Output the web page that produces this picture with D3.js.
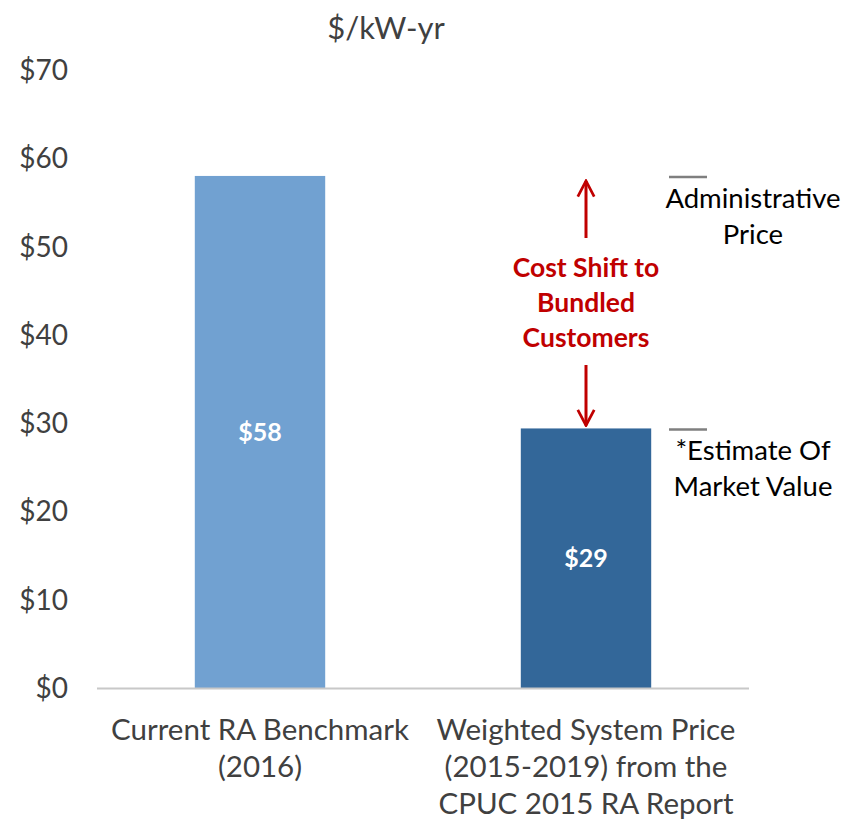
<!DOCTYPE html>
<html>
<head>
<meta charset="utf-8">
<script src="https://cdn.jsdelivr.net/npm/d3@7"></script>
<style>
  body { margin: 0; background: #fff; }
  text { font-family: Lato, "Open Sans", sans-serif; }
</style>
</head>
<body>
<svg id="chart" width="861" height="823"></svg>
<script>
var categories = [["Current RA Benchmark", "(2016)"],
                  ["Weighted System Price", "(2015-2019) from the", "CPUC 2015 RA Report"]];
var values = [58, 29.4];
var valueLabels = ["$58", "$29"];
var barColors = ["#71a1d1", "#336799"];
var yTicks = [0, 10, 20, 30, 40, 50, 60, 70];
var sideNotes = [["Administrative", "Price"], ["*Estimate Of", "Market Value"]];
var shiftLines = ["Cost Shift to", "Bundled", "Customers"];

var svg = d3.select("#chart");

var x = d3.scaleBand()
  .domain(d3.range(values.length))
  .range([97, 749])
  .paddingInner(0.6)
  .paddingOuter(0.3);

var y = d3.scaleLinear().domain([0, 70]).range([688, 70]);

// y tick labels (no gridlines)
svg.selectAll("text.ytick")
  .data(yTicks)
  .enter().append("text")
  .attr("class", "ytick")
  .attr("x", 68)
  .attr("y", function(d) { return y(d) + 10; })
  .attr("text-anchor", "end")
  .attr("fill", "#404040")
  .style("font-size", "28px")
  .text(function(d) { return "$" + d; });

svg.append("text")
  .attr("x", 386)
  .attr("y", 39)
  .attr("text-anchor", "middle")
  .attr("fill", "#404040")
  .style("font-size", "31px")
  .text("$/kW-yr");

// bars
svg.selectAll("rect.bar")
  .data(values)
  .enter().append("rect")
  .attr("class", "bar")
  .attr("x", function(d, i) { return x(i); })
  .attr("y", function(d) { return y(d); })
  .attr("width", x.bandwidth())
  .attr("height", function(d) { return y(0) - y(d); })
  .attr("fill", function(d, i) { return barColors[i]; });

// baseline
svg.append("line")
  .attr("x1", 97).attr("x2", 749)
  .attr("y1", y(0) + 0.5).attr("y2", y(0) + 0.5)
  .attr("stroke", "#c8c8c8")
  .attr("stroke-width", 2);

// value labels in the middle of bars
svg.selectAll("text.vlabel")
  .data(values)
  .enter().append("text")
  .attr("class", "vlabel")
  .attr("x", function(d, i) { return x(i) + x.bandwidth() / 2; })
  .attr("y", function(d) { return (y(d) + y(0)) / 2 + 9; })
  .attr("text-anchor", "middle")
  .attr("fill", "#fff")
  .style("font-size", "25px")
  .style("font-weight", "bold")
  .text(function(d, i) { return valueLabels[i]; });

// category labels
categories.forEach(function(lines, i) {
  var t = svg.append("text")
    .attr("text-anchor", "middle")
    .attr("fill", "#404040")
    .style("font-size", "29.5px");
  lines.forEach(function(s, j) {
    t.append("tspan")
      .attr("x", x(i) + x.bandwidth() / 2)
      .attr("y", 740 + j * 37)
      .text(s);
  });
});

// short grey marks and side notes
values.forEach(function(v, i) {
  svg.append("line")
    .attr("x1", 669).attr("x2", 707)
    .attr("y1", y(v) + 1).attr("y2", y(v) + 1)
    .attr("stroke", "#7f7f7f")
    .attr("stroke-width", 2.5);
  var t = svg.append("text")
    .attr("text-anchor", "middle")
    .attr("fill", "#000")
    .style("font-size", "27.5px");
  sideNotes[i].forEach(function(s, j) {
    t.append("tspan")
      .attr("x", 753)
      .attr("y", y(v) + 32 + j * 36)
      .text(s);
  });
});

// cost shift arrows
var ax = x(1) + x.bandwidth() / 2;
var red = "#c00000";
svg.append("defs").append("marker")
  .attr("id", "head")
  .attr("viewBox", "0 0 10 10")
  .attr("refX", 9).attr("refY", 5)
  .attr("markerWidth", 6.5).attr("markerHeight", 6.5)
  .attr("orient", "auto")
  .append("path")
  .attr("d", "M1,0.8 L9,5 L1,9.2")
  .attr("fill", "none")
  .attr("stroke", red)
  .attr("stroke-width", 1.4);

svg.append("line")
  .attr("x1", ax).attr("x2", ax)
  .attr("y1", 238).attr("y2", y(values[0]) + 5)
  .attr("stroke", red).attr("stroke-width", 3)
  .attr("marker-end", "url(#head)");
svg.append("line")
  .attr("x1", ax).attr("x2", ax)
  .attr("y1", 365).attr("y2", y(values[1]) - 3)
  .attr("stroke", red).attr("stroke-width", 3)
  .attr("marker-end", "url(#head)");

var st = svg.append("text")
  .attr("text-anchor", "middle")
  .attr("fill", red)
  .style("font-size", "26.5px")
  .style("font-weight", "bold");
shiftLines.forEach(function(s, j) {
  st.append("tspan")
    .attr("x", ax)
    .attr("y", 277 + j * 35)
    .text(s);
});
</script>
</body>
</html>
